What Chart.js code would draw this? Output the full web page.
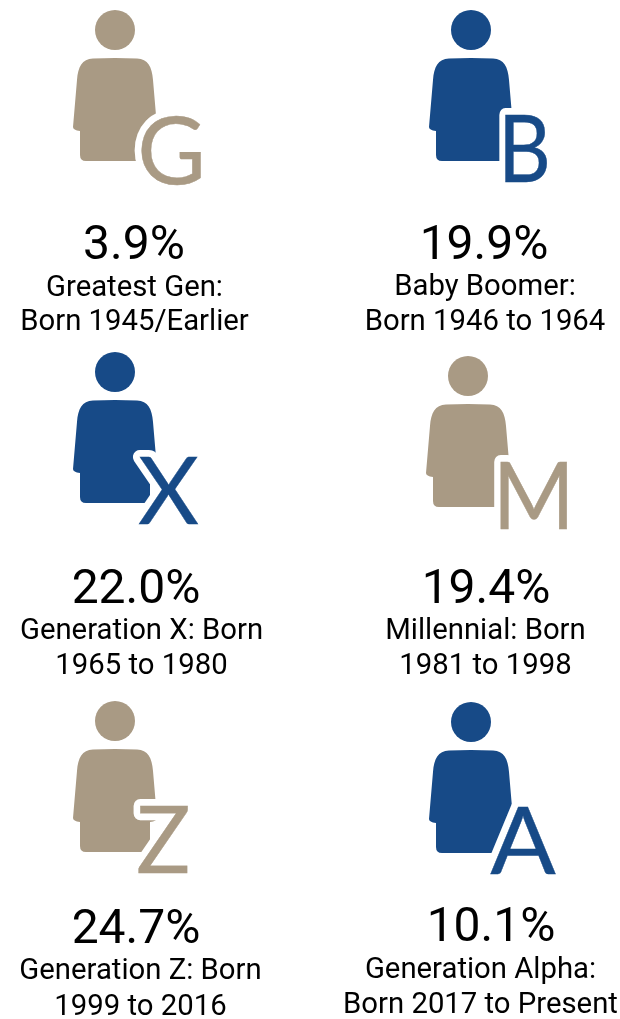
<!DOCTYPE html>
<html><head><meta charset="utf-8">
<style>html,body{margin:0;padding:0;background:#fff}#w{width:620px;height:1019px}canvas{display:block}</style>
<script src="https://cdn.jsdelivr.net/npm/chart.js@4/dist/chart.umd.min.js"></script>
</head><body><div id="w"><canvas id="c" width="620" height="1019"></canvas></div>
<script>
// DATA
const letters = ['G','B','X','M','Z','A'];
const shares = [3.9,19.9,22.0,19.4,24.7,10.1];
const labelLine1 = ['Greatest Gen:','Baby Boomer:','Generation X: Born','Millennial: Born','Generation Z: Born','Generation Alpha:'];
const labelLine2 = ['Born 1945/Earlier','Born 1946 to 1964','1965 to 1980','1981 to 1998','1999 to 2016','Born 2017 to Present'];
const columns = [0,1,0,1,0,1];
const rows = [0,0,1,1,2,2];
const tones = ['tan','blue','blue','tan','tan','blue'];

// LAYOUT / STYLE (pixels relative to each cell's anchor)
const palette = {tan:'#A99A84', blue:'#174A87'};
const W=620,H=1019, colX=[115,471], rowY=[30,376,722];
const nudge = [[0,0],[0,0],[0,-4],[-3,0],[0,-1],[0,0]];
const letterDX = [56.5,53.5,53.5,65.7,48.5,52];
const letterDY = [154,152,152,153,152,152];
const letterSX = [1,0.87,1,0.94,0.96,1.03];
const pctDX = [19,13,21,18,21,20];
const pctY = [229,229,231,227,222,219];
const line1DX = [19.5,14,26.5,17.5,25.5,9.5];
const line1Y = [266,265,267,263,258,256];
const line2Y = [300,300,302,298,294,291];

const person = new Path2D('M-22 28.5Q0 27.5 22 28.5C33 29 37 37 38 50L42 97Q42 100 35 101L35 125Q35 131 29 131L-29 131Q-35 131 -35 125L-35 101Q-42 100 -42 97L-38 50C-37 37 -33 29 -22 28.5Z');

const cellPlugin = {
  id:'cells',
  afterDatasetsDraw(chart){
    const g=chart.ctx, pts=chart.getDatasetMeta(0).data;
    pts.forEach((p,i)=>{
      const x=p.x+nudge[i][0], y=p.y+nudge[i][1], col=palette[tones[i]];
      g.save();
      g.translate(x,y);
      g.fillStyle=col;
      g.beginPath(); g.arc(0,0,20,0,Math.PI*2); g.fill();
      g.fill(person);
      g.translate(letterDX[i],letterDY[i]);
      g.scale(letterSX[i],1);
      g.font='400 94px Lato';
      g.textAlign='center'; g.textBaseline='alphabetic';
      g.lineJoin='round'; g.lineWidth=14; g.strokeStyle='#fff';
      g.strokeText(letters[i],0,0);
      g.fillStyle=col;
      g.fillText(letters[i],0,0);
      g.lineJoin='miter'; g.lineWidth=0.4; g.strokeStyle=col;
      g.strokeText(letters[i],0,0);
      g.restore();
      g.save();
      g.fillStyle='#000'; g.textAlign='center'; g.textBaseline='alphabetic';
      g.font='400 48px Roboto';
      g.fillText(shares[i].toFixed(1)+'%',x+pctDX[i],y+pctY[i]);
      g.font='400 29.3px Roboto';
      g.fillText(labelLine1[i],x+line1DX[i],y+line1Y[i]);
      g.fillText(labelLine2[i],x+line1DX[i],y+line2Y[i]);
      g.restore();
    });
  }
};

const colStep=colX[1]-colX[0], rowStep=(rowY[2]-rowY[0])/2;
new Chart(document.getElementById('c'),{
  type:'scatter',
  data:{datasets:[{label:'Share of population',
    data:shares.map((v,i)=>({x:columns[i],y:rows[i],share:v})),
    pointRadius:0,pointHoverRadius:0}]},
  options:{
    responsive:false,animation:false,
    layout:{padding:0},
    events:[],
    plugins:{legend:{display:false},tooltip:{enabled:false},title:{display:false}},
    scales:{
      x:{type:'linear',display:false,min:-colX[0]/colStep,max:(W-colX[0])/colStep},
      y:{type:'linear',display:false,reverse:true,min:-rowY[0]/rowStep,max:(H-rowY[0])/rowStep}
    }
  },
  plugins:[cellPlugin]
});
</script></body></html>
